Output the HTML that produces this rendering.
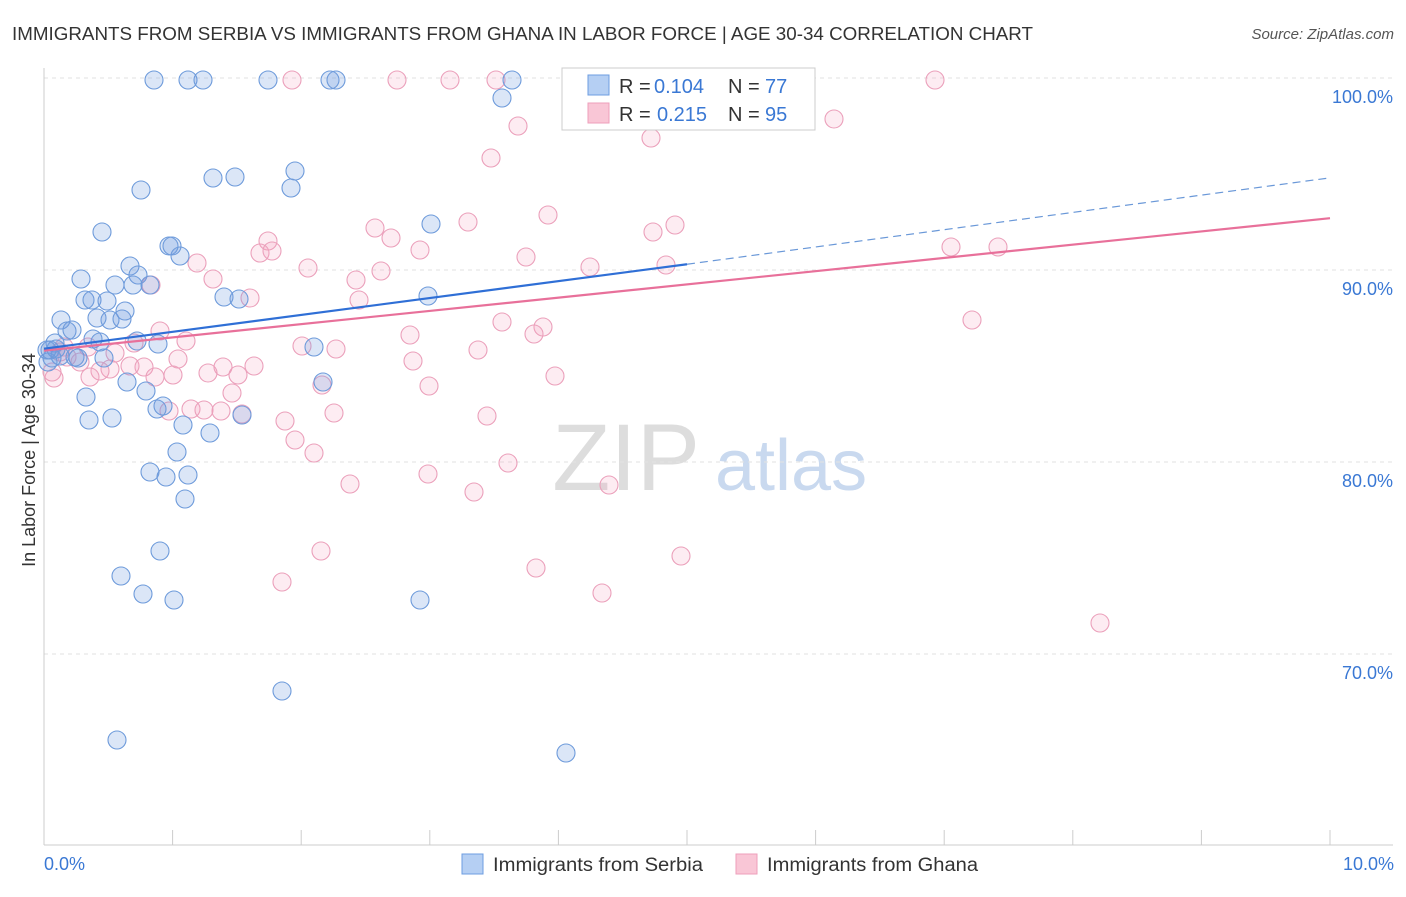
<!DOCTYPE html>
<html><head><meta charset="utf-8"><style>
body{margin:0;background:#fff;font-family:"Liberation Sans",sans-serif;}
svg text{font-family:"Liberation Sans",sans-serif;}
</style></head><body>
<svg id="chart" width="1406" height="892">
<text x="12" y="40" font-size="18.5" fill="#333" textLength="1021" lengthAdjust="spacingAndGlyphs">IMMIGRANTS FROM SERBIA VS IMMIGRANTS FROM GHANA IN LABOR FORCE | AGE 30-34 CORRELATION CHART</text>
<text x="1394" y="39" font-size="15" fill="#555" font-style="italic" text-anchor="end">Source: ZipAtlas.com</text>
<text x="700" y="490" font-size="95" fill="#ddd" text-anchor="end" font-family="Liberation Serif">ZIP</text>
<text x="715" y="490" font-size="72" fill="#c9d9ef">atlas</text>
<g id="grid"></g><g id="axes"></g><g id="pts"></g><g id="lines"></g>
<text x="35" y="460" font-size="18" fill="#333" text-anchor="middle" transform="rotate(-90 35 460)">In Labor Force | Age 30-34</text>
<g>
<rect x="562" y="68" width="253" height="62" fill="#fff" stroke="#ccc"/>
<rect x="588" y="75" width="21" height="20" fill="#b5cff3" stroke="#6d9de0"/>
<rect x="588" y="103" width="21" height="20" fill="#f9c6d6" stroke="#ee9fbb"/>
<text x="619" y="93" font-size="20" fill="#333">R =</text>
<text x="654" y="93" font-size="20" fill="#3a78d4">0.104</text>
<text x="728" y="93" font-size="20" fill="#333">N =</text>
<text x="765" y="93" font-size="20" fill="#3a78d4">77</text>
<text x="619" y="121" font-size="20" fill="#333">R =</text>
<text x="657" y="121" font-size="20" fill="#3a78d4">0.215</text>
<text x="728" y="121" font-size="20" fill="#333">N =</text>
<text x="765" y="121" font-size="20" fill="#3a78d4">95</text>
</g>
<g>
<rect x="462" y="854" width="21" height="20" fill="#b5cff3" stroke="#6d9de0"/>
<text x="493" y="871" font-size="19" fill="#333" textLength="210" lengthAdjust="spacingAndGlyphs">Immigrants from Serbia</text>
<rect x="736" y="854" width="21" height="20" fill="#f9c6d6" stroke="#ee9fbb"/>
<text x="767" y="871" font-size="19" fill="#333" textLength="211" lengthAdjust="spacingAndGlyphs">Immigrants from Ghana</text>
</g>
</svg>
<script>
const yTicks=[70,80,90,100];
const xTickLabels=["0.0%","10.0%"];
const serbiaX=[154,188,203,268,330,336,512,502,141,213,235,295,291,431,102,169,172,180,81,130,138,115,133,150,85,92,107,224,239,428,61,67,72,97,110,125,122,93,100,137,158,314,55,50,52,60,75,78,104,127,146,323,86,89,112,157,163,242,183,210,177,150,166,188,185,160,121,143,174,420,282,117,566,48,47,56].map(p=>(p-44)/128.6);
const serbiaY=[80,80,80,80,80,80,80,98,190,178,177,171,188,224,232,246,246,256,279,266,275,285,285,285,300,300,301,297,299,296,320,331,330,318,320,311,319,339,342,341,344,347,343,350,358,356,357,358,358,382,391,382,397,420,418,409,406,415,425,433,452,472,477,475,499,551,576,594,600,600,691,740,753,362,350,349].map(p=>100-(p-78)/19.2);
const ghanaX=[292,397,450,496,587,600,661,935,834,518,651,491,548,468,375,391,420,268,260,272,653,675,951,998,526,590,666,197,213,308,381,356,151,250,359,502,543,534,972,410,160,186,134,302,336,478,115,88,64,67,110,100,130,144,178,223,254,208,238,173,155,90,413,555,429,232,322,169,191,204,221,242,285,334,487,295,314,508,428,350,474,609,321,681,536,282,602,1100,54,52,60,80].map(p=>(p-44)/128.6);
const ghanaY=[80,80,80,80,80,80,80,80,119,126,138,158,215,222,228,238,250,241,253,251,232,225,247,247,257,267,265,263,279,268,271,280,285,298,300,322,327,334,320,335,331,341,343,346,349,350,353,347,347,357,369,371,366,367,359,367,366,373,375,375,377,377,361,376,386,393,385,411,409,410,411,414,421,413,416,440,453,463,474,484,492,485,551,556,568,582,593,623,378,372,352,362].map(p=>100-(p-78)/19.2);
const serbiaTrend=[[0,85.9],[5,90.3]], serbiaDash=[[5,90.3],[10,94.8]];
const ghanaTrend=[[0,85.8],[10,92.7]];
const X=v=>44+v*128.6, Y=v=>78+(100-v)*19.2;
const NS="http://www.w3.org/2000/svg";
function mk(t,a,p){const e=document.createElementNS(NS,t);for(const k in a)e.setAttribute(k,a[k]);document.getElementById(p).appendChild(e);return e;}
yTicks.forEach(t=>{
 const l=mk('line',{x1:44,x2:1393,y1:Y(t),y2:Y(t),stroke:'#e2e2e2','stroke-dasharray':'4,4'},'grid');
 
 
 const tx=mk('text',{x:1393,y:Y(t)+25,'font-size':18,fill:'#3a78d4','text-anchor':'end'},'axes');tx.textContent=t.toFixed(1)+'%';
 
 
});
mk('line',{x1:44,x2:44,y1:68,y2:845,stroke:'#ccc'},'axes');
mk('line',{x1:44,x2:1393,y1:845,y2:845,stroke:'#ccc'},'axes');
for(let i=0;i<=10;i++){mk('line',{x1:X(i),x2:X(i),y1:830,y2:845,stroke:'#ccc'},'axes');}
[[0,'start'],[10,'end']].forEach((d,i)=>{const t=mk('text',{x:X(d[0])+(i?64:0),y:870,'font-size':18,fill:'#3a78d4','text-anchor':d[1]},'axes');t.textContent=xTickLabels[i];
 
 });
function pts(xs,ys,fill,stroke,name){xs.forEach((x,i)=>{const c=mk('circle',{cx:X(x),cy:Y(ys[i]),r:9,fill:fill,stroke:stroke,'stroke-width':1.1},'pts');
 
 });}
pts(ghanaX,ghanaY,'rgba(245,160,190,0.2)','#eba0bb','ghana-point');
pts(serbiaX,serbiaY,'rgba(110,155,225,0.25)','#6e9bdb','serbia-point');
function ln(p,st,w,dash,name){const l=mk('line',{x1:X(p[0][0]),y1:Y(p[0][1]),x2:X(p[1][0]),y2:Y(p[1][1]),stroke:st,'stroke-width':w,'stroke-dasharray':dash||''},'lines');
 
 }
ln(ghanaTrend,'#e8709a',2.2,'','ghana-trend-line');
ln(serbiaTrend,'#2f6fd6',2.2,'','serbia-trend-line');
ln(serbiaDash,'#6a98d8',1.2,'8,5','serbia-trend-extension');
</script>
</body></html>
